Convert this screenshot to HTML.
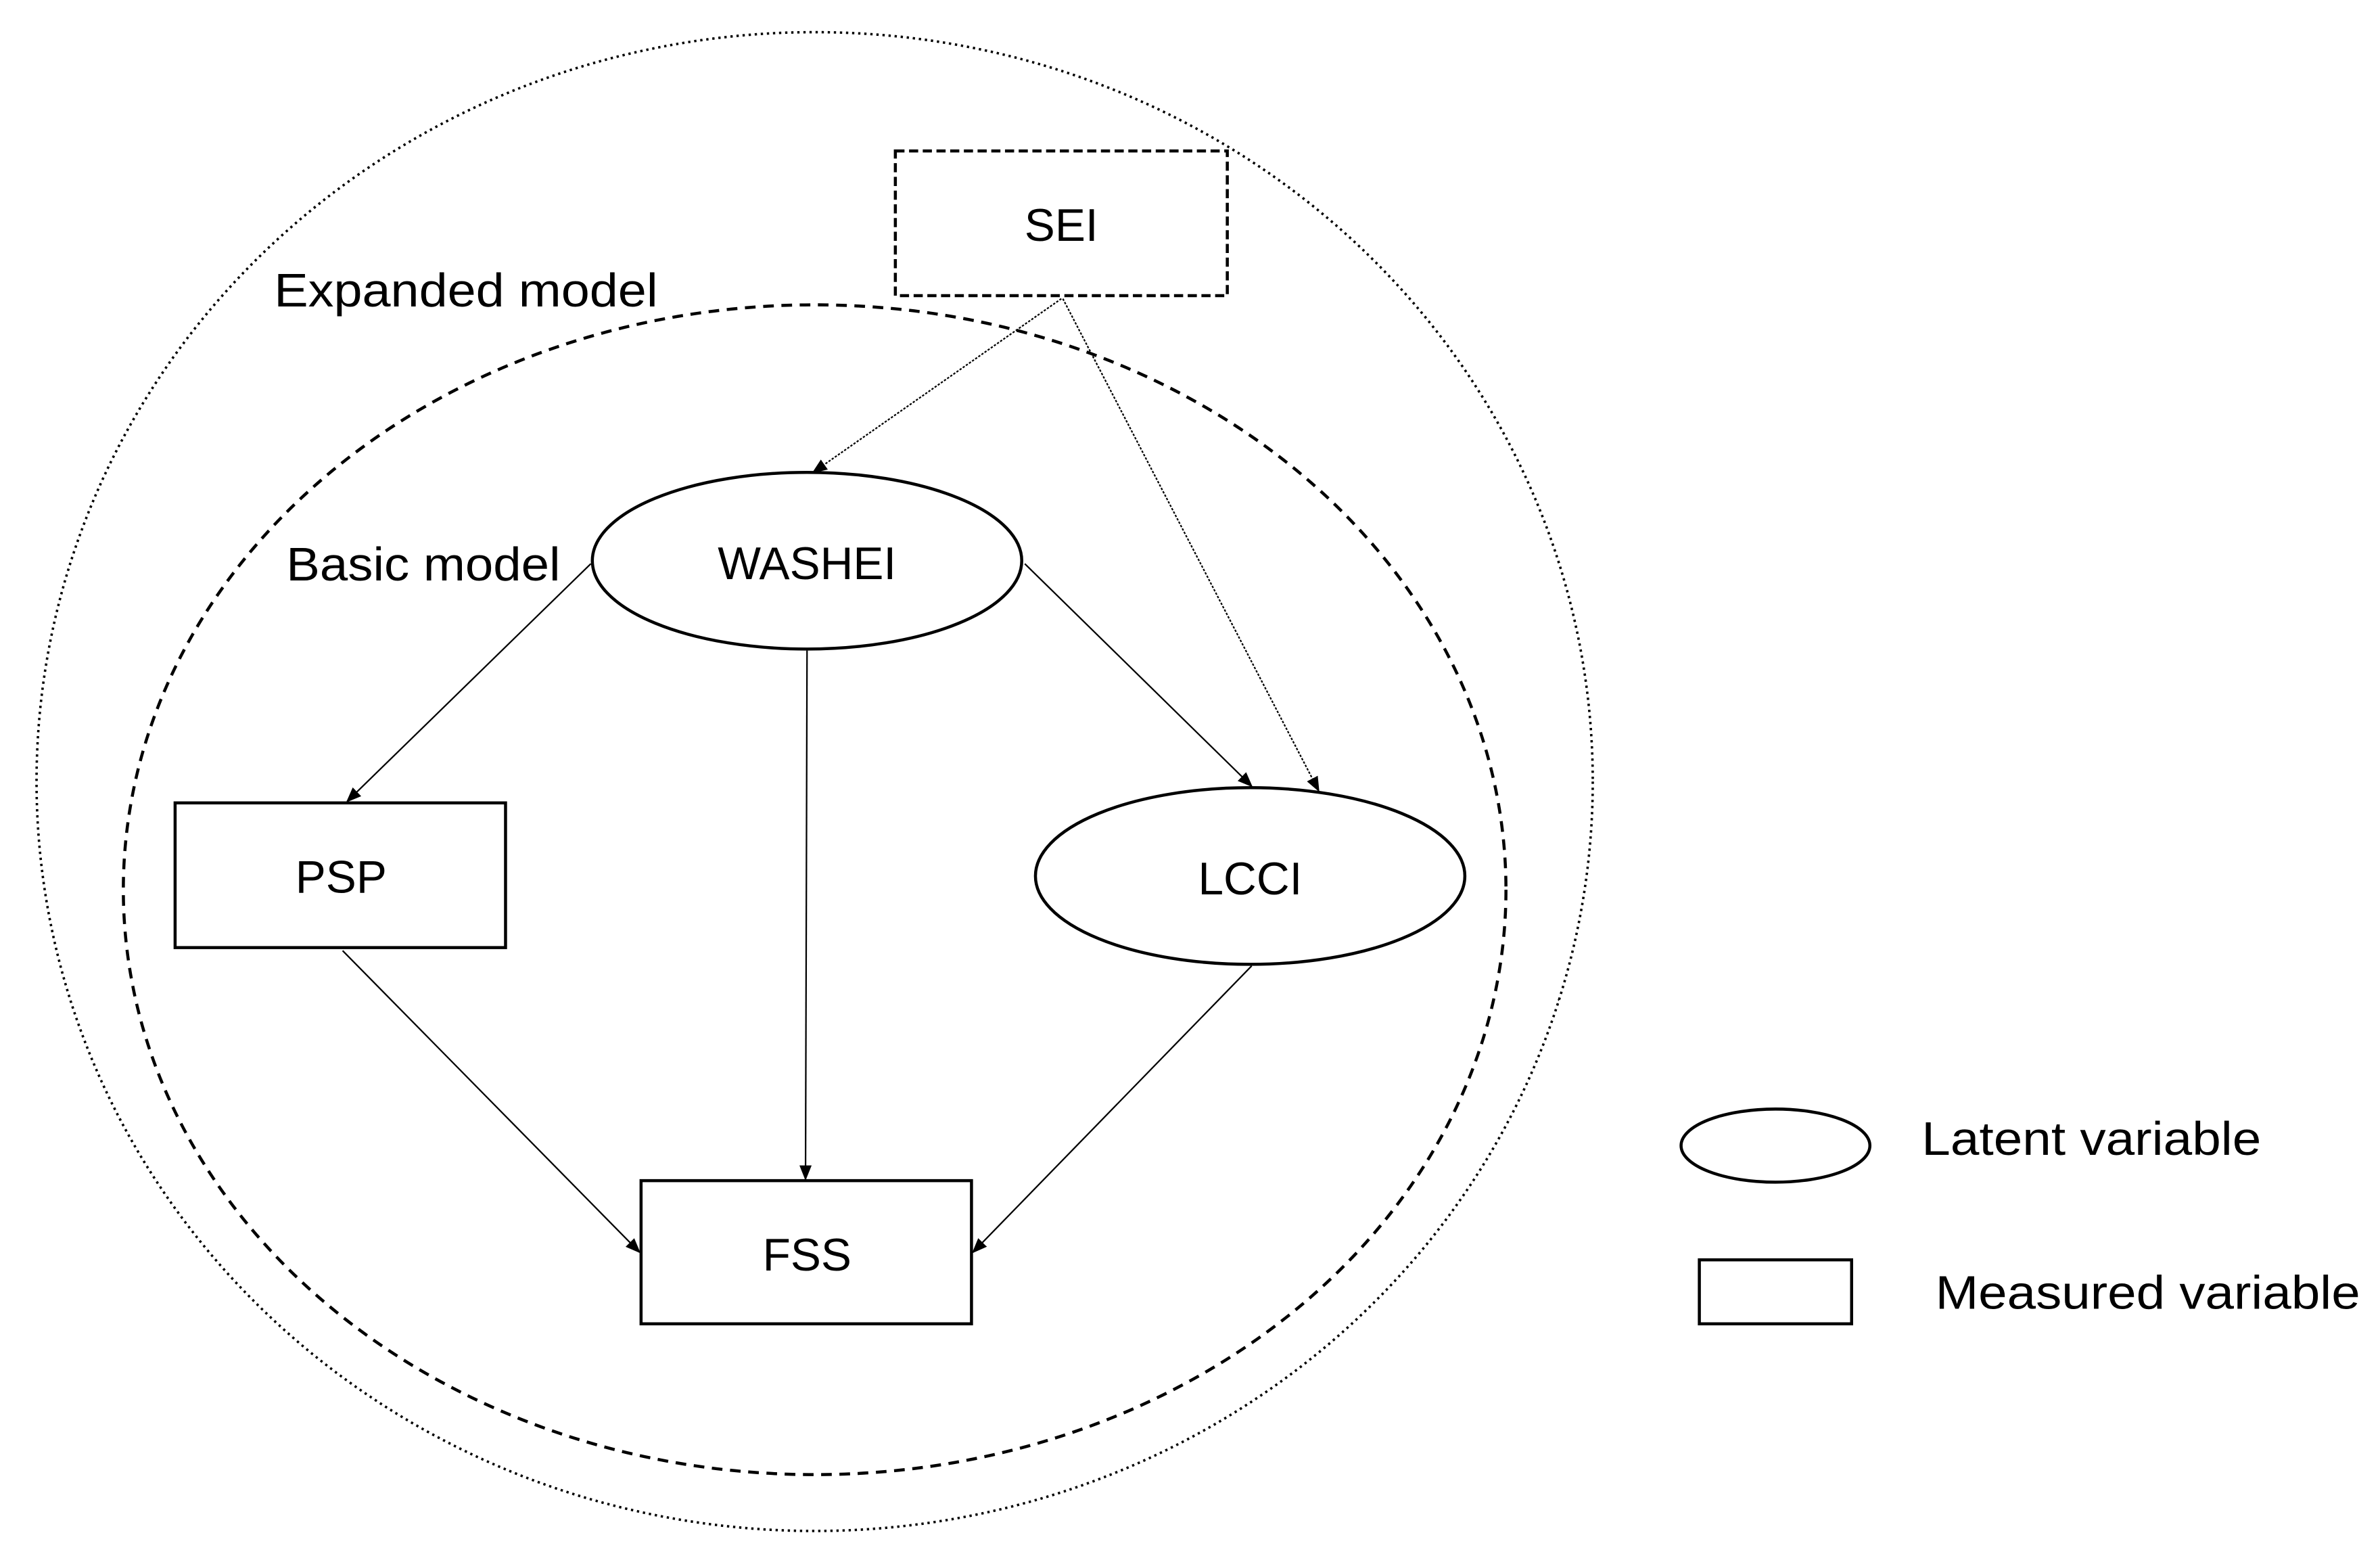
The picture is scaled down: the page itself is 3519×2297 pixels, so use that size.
<!DOCTYPE html>
<html><head><meta charset="utf-8"><style>
html,body{margin:0;padding:0;background:#fff;}
svg{display:block;}
text{font-family:"Liberation Sans",sans-serif;fill:#000;}
</style></head><body>
<svg width="3519" height="2297" viewBox="0 0 1563 1020" xmlns="http://www.w3.org/2000/svg">
<defs>
<marker id="a" markerWidth="10" markerHeight="10" refX="9" refY="5" orient="auto" markerUnits="userSpaceOnUse">
<path d="M0,1 L10,5 L0,9 z" fill="#000"/>
</marker>
</defs>
<rect width="1563" height="1020" fill="#fff"/>
<ellipse cx="535" cy="513" rx="511" ry="492" fill="none" stroke="#000" stroke-width="1.6" stroke-dasharray="1.5 2.5"/>
<ellipse cx="535" cy="584" rx="454" ry="384" fill="none" stroke="#000" stroke-width="2" stroke-dasharray="7 5"/>
<rect x="588" y="99" width="218" height="95" fill="none" stroke="#000" stroke-width="2" stroke-dasharray="6 3"/>
<text x="697" y="158" font-size="30" text-anchor="middle">SEI</text>
<text x="180" y="201" font-size="31" textLength="252" lengthAdjust="spacingAndGlyphs">Expanded model</text>
<text x="188" y="381" font-size="31" textLength="180" lengthAdjust="spacingAndGlyphs">Basic model</text>
<ellipse cx="530" cy="368" rx="141" ry="58" fill="#fff" stroke="#000" stroke-width="2"/>
<text x="530" y="380" font-size="30" text-anchor="middle">WASHEI</text>
<rect x="115" y="527" width="217" height="95" fill="#fff" stroke="#000" stroke-width="2"/>
<text x="224" y="586" font-size="30" text-anchor="middle">PSP</text>
<ellipse cx="821" cy="575" rx="141" ry="58" fill="#fff" stroke="#000" stroke-width="2"/>
<text x="821" y="587" font-size="30" text-anchor="middle">LCCI</text>
<rect x="421" y="775" width="217" height="94" fill="#fff" stroke="#000" stroke-width="2"/>
<text x="530" y="834" font-size="30" text-anchor="middle">FSS</text>
<g stroke="#000" stroke-width="1" fill="none" marker-end="url(#a)">
<line x1="697" y1="196" x2="534" y2="310" stroke-dasharray="1.5 1"/>
<line x1="698" y1="196" x2="866" y2="519" stroke-dasharray="1.5 1"/>
<line x1="388" y1="370" x2="228" y2="526"/>
<line x1="530" y1="427" x2="529" y2="774"/>
<line x1="673" y1="370" x2="822" y2="516"/>
<line x1="225" y1="624" x2="420" y2="822"/>
<line x1="822" y1="634" x2="639" y2="822"/>
</g>
<ellipse cx="1166" cy="752" rx="62" ry="24" fill="none" stroke="#000" stroke-width="2"/>
<text x="1262" y="758" font-size="31" textLength="223" lengthAdjust="spacingAndGlyphs">Latent variable</text>
<rect x="1116" y="827" width="100" height="42" fill="none" stroke="#000" stroke-width="2"/>
<text x="1271" y="859" font-size="31" textLength="279" lengthAdjust="spacingAndGlyphs">Measured variable</text>
</svg>
</body></html>
